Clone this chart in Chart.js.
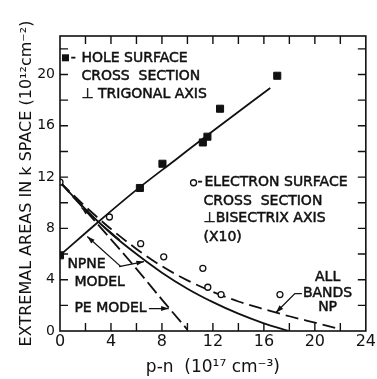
<!DOCTYPE html>
<html>
<head>
<meta charset="utf-8">
<script src="https://cdn.jsdelivr.net/npm/chart.js@4/dist/chart.umd.min.js"></script>
<style>
  html, body { margin: 0; padding: 0; background: #fff; }
  #wrap { width: 377px; height: 379px; }
</style>
</head>
<body>
<div id="wrap"><canvas id="areaChart" width="377" height="379"></canvas></div>
<script>
// tick labels
const xTickLabels = [0, 4, 8, 12, 16, 20, 24];
const yTickLabels = [0, 4, 8, 12, 16, 20];
const tickStep = 2;

// hole surface cross section (filled squares)
const holeX = [0, 6.27, 8.04, 11.21, 11.57, 12.56, 17.05];
const holeY = [5.9, 11.15, 13.04, 14.7, 15.15, 17.33, 19.9];

// electron surface cross section x10 (open circles)
const elecX = [0, 3.88, 6.33, 8.14, 11.21, 11.6, 12.64, 17.26];
const elecY = [11.6, 8.89, 6.81, 5.78, 4.89, 3.41, 2.84, 2.84];

// fitted line through hole points
const holeFitX = [0, 3, 6, 9, 12, 16.5];
const holeFitY = [5.9, 8.5, 11.0, 13.3, 15.6, 18.95];

// NPNE model (solid)
const npneX = [0, 2, 4, 6, 8, 10, 12, 14, 16, 17.9];
const npneY = [11.6, 9.5, 7.6, 6.0, 4.55, 3.3, 2.25, 1.35, 0.6, 0.02];

// all bands NP (dashed)
const allBandsX = [0, 2, 4, 6, 8, 10, 12, 14, 16, 18, 20, 21.8];
const allBandsY = [11.6, 9.7, 7.95, 6.4, 5.05, 3.95, 3.05, 2.3, 1.7, 1.15, 0.65, 0.2];

// PE model (dashed)
const peX = [0, 2, 4, 6, 8, 10];
const peY = [11.6, 9.4, 7.15, 4.85, 2.45, 0.1];

function pts(xs, ys) {
    return xs.map((x, i) => ({ x: x, y: ys[i] }));
}

// label arrows (tail -> head)
const arrows = [
    [{ x: 4.64, y: 5.02 }, { x: 6.59, y: 5.41 }],
    [{ x: 4.8, y: 5.0 }, { x: 2.14, y: 7.36 }],
    [{ x: 4.7, y: 7.1 }, { x: 1.68, y: 9.62 }],
    [{ x: 6.98, y: 1.75 }, { x: 8.53, y: 1.75 }],
    [{ x: 18.98, y: 2.92 }, { x: 18.43, y: 2.92 }, { x: 16.95, y: 1.44 }]
];

const labels = [
    { t: '-', x: 0.85, y: 21.25 },
    { t: 'HOLE SURFACE', x: 1.68, y: 21.22 },
    { t: 'CROSS  SECTION', x: 1.68, y: 19.82 },
    { t: '\u22A5 TRIGONAL AXIS', x: 1.68, y: 18.42 },
    { t: '-', x: 10.8, y: 11.58 },
    { t: 'ELECTRON SURFACE', x: 11.34, y: 11.56 },
    { t: 'CROSS  SECTION', x: 11.26, y: 10.09 },
    { t: '\u22A5BISECTRIX AXIS', x: 11.26, y: 8.76 },
    { t: '(X10)', x: 11.26, y: 7.28 },
    { t: 'NPNE', x: 0.58, y: 5.18 },
    { t: 'MODEL', x: 1.13, y: 3.78 },
    { t: 'PE MODEL', x: 1.13, y: 1.75 },
    { t: 'ALL', x: 21.0, y: 4.17, c: true },
    { t: 'BANDS', x: 21.0, y: 2.92, c: true },
    { t: 'NP', x: 21.0, y: 1.83, c: true }
];

const decor = {
    id: 'decor',
    afterDatasetsDraw(chart) {
        const c = chart.ctx;
        const a = chart.chartArea;
        const xs = chart.scales.x;
        const ys = chart.scales.y;
        c.save();
        c.strokeStyle = '#111';
        c.fillStyle = '#111';
        // frame
        c.lineWidth = 1.6;
        c.strokeRect(a.left, a.top, a.right - a.left, a.bottom - a.top);
        // inward ticks
        c.lineWidth = 1.4;
        c.beginPath();
        for (let v = tickStep; v < xs.max; v += tickStep) {
            const px = xs.getPixelForValue(v);
            c.moveTo(px, a.bottom); c.lineTo(px, a.bottom - 8);
            c.moveTo(px, a.top); c.lineTo(px, a.top + 8);
        }
        for (let v = tickStep; v < ys.max; v += tickStep) {
            const py = ys.getPixelForValue(v);
            c.moveTo(a.left, py); c.lineTo(a.left + 8, py);
            c.moveTo(a.right, py); c.lineTo(a.right - 8, py);
        }
        c.stroke();
        // arrowheads on the label arrows
        chart.data.datasets.forEach((ds, i) => {
            if (!ds.arrow) return;
            const el = chart.getDatasetMeta(i).data;
            const p1 = el[el.length - 2], p2 = el[el.length - 1];
            const ang = Math.atan2(p2.y - p1.y, p2.x - p1.x);
            c.beginPath();
            c.moveTo(p2.x, p2.y);
            c.lineTo(p2.x - 8 * Math.cos(ang - 0.32), p2.y - 8 * Math.sin(ang - 0.32));
            c.lineTo(p2.x - 8 * Math.cos(ang + 0.32), p2.y - 8 * Math.sin(ang + 0.32));
            c.closePath();
            c.fill();
        });
        // legend markers
        const sx = xs.getPixelForValue(0.43), sy = ys.getPixelForValue(21.3);
        c.fillRect(sx - 3.5, sy - 3.5, 7, 7);
        c.lineWidth = 1.3;
        c.beginPath();
        c.arc(xs.getPixelForValue(10.48), ys.getPixelForValue(11.56), 3, 0, Math.PI * 2);
        c.stroke();
        // annotation text, lightly stroked to match the heavier lettering
        c.font = '14px "DejaVu Sans"';
        c.textBaseline = 'middle';
        c.lineWidth = 0.5;
        labels.forEach(l => {
            c.textAlign = l.c ? 'center' : 'left';
            const px = xs.getPixelForValue(l.x), py = ys.getPixelForValue(l.y);
            c.fillText(l.t, px, py);
            c.strokeText(l.t, px, py);
        });
        c.restore();
    }
};

const ctx = document.getElementById('areaChart').getContext('2d');
const datasets = [
    { data: pts(holeX, holeY), pointStyle: 'rect', pointRadius: 5, backgroundColor: '#111', borderColor: '#111', showLine: false },
    { data: pts(elecX, elecY), pointStyle: 'circle', pointRadius: 3, borderWidth: 1.3, backgroundColor: '#fff', borderColor: '#111', showLine: false },
    { data: pts(holeFitX, holeFitY), showLine: true, pointRadius: 0, borderColor: '#111', borderWidth: 1.8, cubicInterpolationMode: 'monotone' },
    { data: pts(npneX, npneY), showLine: true, pointRadius: 0, borderColor: '#111', borderWidth: 1.8, cubicInterpolationMode: 'monotone' },
    { data: pts(allBandsX, allBandsY), showLine: true, pointRadius: 0, borderColor: '#111', borderWidth: 1.8, borderDash: [13, 6], cubicInterpolationMode: 'monotone' },
    { data: pts(peX, peY), showLine: true, pointRadius: 0, borderColor: '#111', borderWidth: 1.8, borderDash: [14, 5], cubicInterpolationMode: 'monotone' }
];
arrows.forEach(a => {
    datasets.push({ data: a, showLine: true, arrow: true, pointRadius: 0, borderColor: '#111', borderWidth: 1.3, tension: 0 });
});

new Chart(ctx, {
    type: 'scatter',
    data: { datasets: datasets },
    options: {
        responsive: false,
        animation: false,
        layout: { padding: { top: 36, right: 8, left: 0, bottom: 0 } },
        plugins: { legend: { display: false }, tooltip: { enabled: false } },
        scales: {
            x: {
                type: 'linear', min: 0, max: 24,
                grid: { display: false, drawTicks: false },
                border: { display: false },
                afterBuildTicks: s => { s.ticks = xTickLabels.map(v => ({ value: v })); },
                afterFit: s => { s.height = 48; },
                ticks: { color: '#111', padding: 1, maxRotation: 0, font: { family: 'DejaVu Sans', size: 16 } },
                title: { display: true, text: 'p-n  (10\u00B9\u2077 cm\u207B\u00B3)', color: '#111', padding: { top: 0, bottom: 1 }, font: { family: 'DejaVu Sans', size: 17 } }
            },
            y: {
                type: 'linear', min: 0, max: 23,
                grid: { display: false, drawTicks: false },
                border: { display: false },
                afterBuildTicks: s => { s.ticks = yTickLabels.map(v => ({ value: v })); },
                afterFit: s => { s.width = 60; },
                ticks: { color: '#111', padding: 5, font: { family: 'DejaVu Sans', size: 14 } },
                title: { display: true, text: 'EXTREMAL AREAS IN k SPACE (10\u00B9\u00B2cm\u207B\u00B2)', color: '#111', padding: { top: 17, bottom: 0 }, font: { family: 'DejaVu Sans', size: 16 } }
            }
        }
    },
    plugins: [decor]
});
</script>
</body>
</html>
